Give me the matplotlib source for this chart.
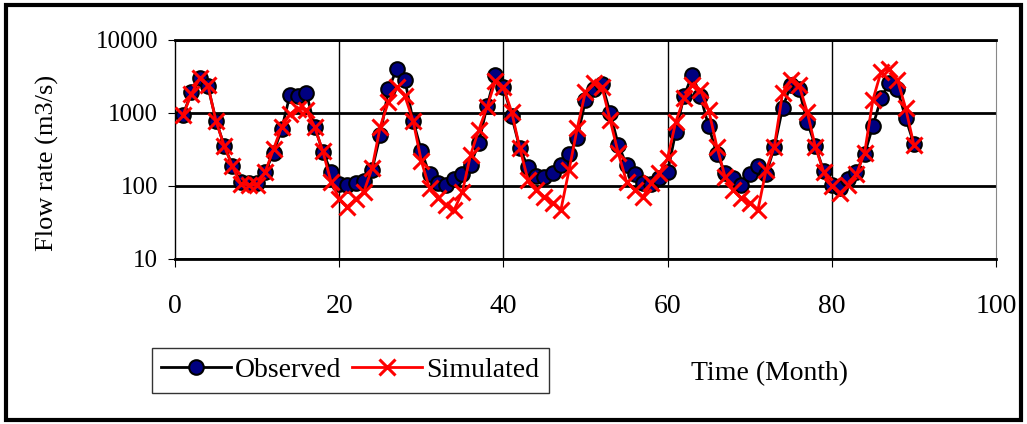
import matplotlib
matplotlib.use("Agg")
import matplotlib.pyplot as plt
from matplotlib.patches import Rectangle

plt.rcParams['font.family'] = ['Liberation Serif', 'DejaVu Serif']

months = list(range(1, 91))

observed = [950, 1920, 2990, 2340, 785, 353, 190, 112, 109, 109,
            157, 286, 605, 1770, 1710, 1900, 650, 295, 157, 105,
            103, 109, 118, 166, 500, 2100, 4000, 2830, 785, 305,
            145, 109, 103, 123, 145, 195, 390, 1230, 3310, 2290,
            910, 328, 180, 139, 134, 152, 195, 275, 450, 1520,
            2110, 2500, 1010, 365, 195, 146, 111, 106, 127, 157,
            555, 1710, 3310, 1710, 660, 275, 152, 127, 103, 146,
            188, 146, 340, 1160, 2420, 2110, 760, 353, 162, 103,
            93, 123, 157, 275, 660, 1590, 2600, 2110, 850, 376]

simulated = [950, 1820, 3000, 2400, 770, 353, 185, 107, 103, 103,
             157, 320, 650, 970, 1150, 1100, 650, 300, 115, 67,
             52, 66, 83, 175, 650, 1430, 2250, 1710, 785, 220,
             93, 68, 55, 47, 83, 266, 585, 1200, 2700, 2240,
             1040, 330, 120, 88, 71, 58, 47, 166, 620, 1960,
             2560, 2290, 800, 280, 115, 88, 71, 109, 149, 240,
             760, 1590, 2420, 2070, 1100, 345, 134, 88, 68, 58,
             47, 166, 345, 1870, 2830, 2420, 1040, 345, 157, 99,
             80, 103, 146, 286, 1500, 3680, 4060, 2830, 1160, 365]

x_ticks = [0, 20, 40, 60, 80, 100]
y_ticks = [10, 100, 1000, 10000]

fig = plt.figure(figsize=(10.27, 4.24), dpi=100)
ax = fig.add_axes([0.1704, 0.3892, 0.7994, 0.5165])

ax.plot(months, observed, color='black', lw=2, marker='o', markersize=10.5,
        markerfacecolor='#000080', markeredgecolor='black', markeredgewidth=1.5,
        label='Observed', zorder=3)
ax.plot(months, simulated, color='red', lw=2, marker='x', markersize=11,
        markeredgewidth=2.2, label='Simulated', zorder=4)

ax.set_yscale('log')
ax.set_ylim(10, 10000)
ax.set_xlim(0, 100)
ax.set_xticks(x_ticks)
ax.set_yticks(y_ticks)
ax.set_yticklabels([str(v) for v in y_ticks])
ax.minorticks_off()
ax.tick_params(axis='x', labelsize=20, pad=19, length=6, direction='out')
ax.tick_params(axis='y', labelsize=18, pad=7, length=5, direction='out')

# gridlines
for v in y_ticks:
    ax.axhline(v, color='black', lw=2, zorder=1)
for v in [20, 40, 60, 80]:
    ax.axvline(v, color='black', lw=1, zorder=1)
ax.spines['right'].set_color('#888888')
ax.spines['left'].set_linewidth(1)
for s in ['top', 'bottom']:
    ax.spines[s].set_linewidth(2)

fig.text(0.046, 0.615, 'Flow rate (m3/s)', rotation=90, fontsize=19,
         ha='center', va='center')
fig.text(0.749, 0.12, 'Time (Month)', fontsize=20, ha='center', va='center')

leg = fig.legend(loc='center', bbox_to_anchor=(0.341, 0.127), ncol=2,
                 fontsize=20, fancybox=False, edgecolor='black',
                 handlelength=2.5, handletextpad=0.15, columnspacing=0.4,
                 borderpad=0.35, borderaxespad=0)
leg.get_frame().set_linewidth(1)

fig.patches.append(Rectangle((0.006, 0.01), 0.988, 0.978, transform=fig.transFigure,
                             fill=False, edgecolor='black', lw=3))

fig.savefig('out.png', dpi=100)
